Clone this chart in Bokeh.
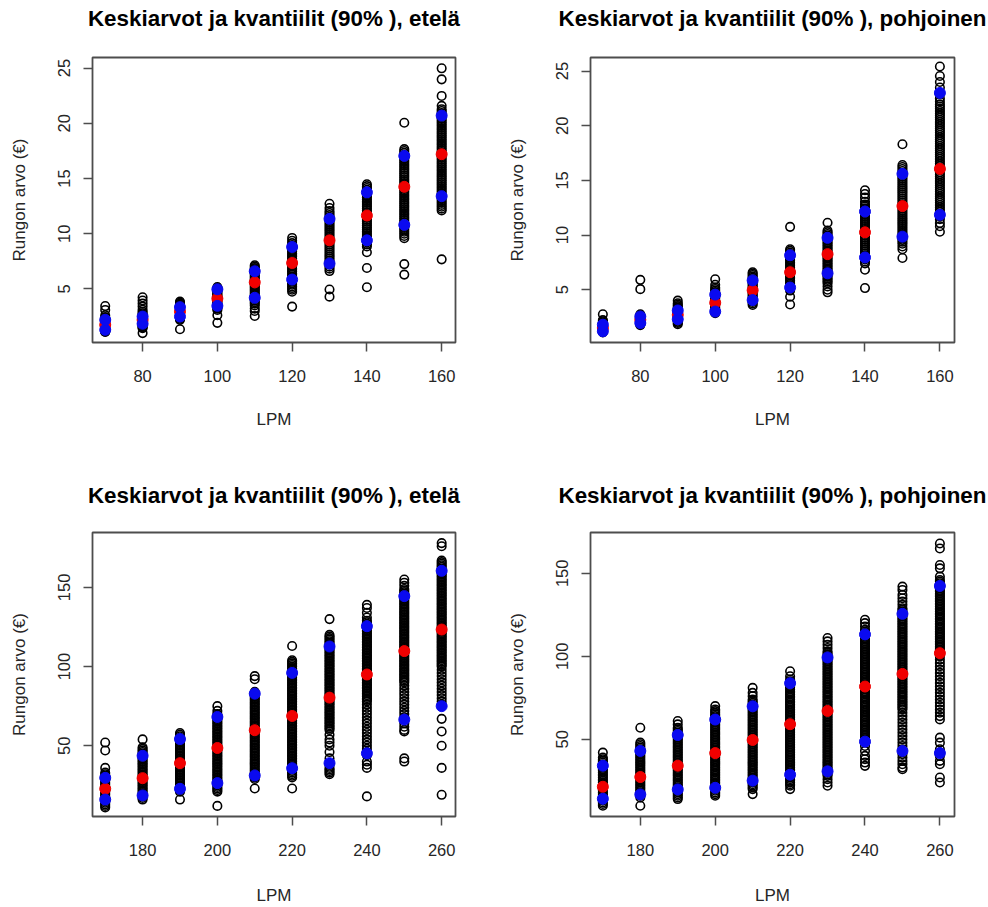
from bokeh.plotting import figure
from bokeh.layouts import gridplot
from bokeh.models import FixedTicker, Range1d, LinearAxis
from bokeh.embed import file_html
from bokeh.resources import INLINE

# Tree length classes (LPM) on the x axis
lpm_low = [70, 80, 90, 100, 110, 120, 130, 140, 150, 160]
lpm_high = [170, 180, 190, 200, 210, 220, 230, 240, 250, 260]

# ---- etelä, LPM 70-160: individual stem values per class ----
etela_low_points = [
    [3.45, 3.1, 2.62, 2.45, 2.32, 2.21, 2.12, 2.03, 1.95, 1.88, 1.81, 1.74, 1.67, 1.6, 1.54, 1.48, 1.42, 1.36, 1.3, 1.25, 1.19, 1.14, 1.1],
    [4.25, 3.95, 3.68, 3.4, 3.12, 2.93, 2.8, 2.68, 2.58, 2.48, 2.39, 2.31, 2.23, 2.15, 2.07, 2.0, 1.92, 1.84, 1.76, 1.68, 1.6, 1.52, 1.44, 1.0],
    [3.86, 3.76, 3.66, 3.57, 3.47, 3.38, 3.29, 3.19, 3.1, 3.01, 2.92, 2.83, 2.74, 2.65, 2.56, 2.47, 2.38, 2.3, 2.2, 1.35],
    [5.18, 5.08, 4.98, 4.88, 4.79, 4.69, 4.59, 4.49, 4.39, 4.3, 4.2, 4.1, 4.01, 3.91, 3.81, 3.71, 3.62, 3.52, 3.42, 3.32, 3.22, 3.1, 2.62, 1.93],
    [7.15, 7.02, 6.89, 6.77, 6.64, 6.51, 6.38, 6.26, 6.13, 6.0, 5.87, 5.74, 5.62, 5.49, 5.36, 5.23, 5.1, 4.98, 4.85, 4.72, 4.59, 4.46, 4.33, 4.2, 4.07, 3.94, 3.8, 3.67, 3.5, 3.22, 3.0, 2.55],
    [9.62, 9.36, 9.15, 8.98, 8.83, 8.68, 8.53, 8.38, 8.23, 8.08, 7.93, 7.78, 7.63, 7.48, 7.33, 7.18, 7.03, 6.88, 6.73, 6.58, 6.43, 6.28, 6.13, 5.98, 5.83, 5.68, 5.53, 5.38, 5.23, 5.08, 4.93, 4.75, 3.4],
    [12.72, 12.33, 12.06, 11.88, 11.7, 11.52, 11.34, 11.16, 10.98, 10.8, 10.62, 10.44, 10.26, 10.08, 9.9, 9.72, 9.54, 9.36, 9.18, 9.0, 8.82, 8.64, 8.46, 8.28, 8.1, 7.92, 7.74, 7.56, 7.38, 7.2, 7.02, 6.84, 6.62, 4.95, 4.3],
    [14.48, 14.31, 14.14, 13.97, 13.8, 13.63, 13.46, 13.29, 13.12, 12.95, 12.78, 12.61, 12.44, 12.27, 12.1, 11.93, 11.76, 11.59, 11.42, 11.25, 11.08, 10.91, 10.74, 10.57, 10.4, 10.23, 10.06, 9.89, 9.72, 9.55, 9.38, 9.21, 9.04, 8.85, 8.32, 6.9, 5.15],
    [20.05, 17.66, 17.49, 17.32, 17.15, 16.98, 16.81, 16.64, 16.47, 16.3, 16.13, 15.96, 15.79, 15.62, 15.45, 15.28, 15.11, 14.94, 14.77, 14.6, 14.43, 14.26, 14.09, 13.92, 13.75, 13.58, 13.41, 13.24, 13.07, 12.9, 12.73, 12.56, 12.39, 12.22, 12.05, 11.88, 11.71, 11.54, 11.37, 11.2, 11.03, 10.86, 10.69, 10.52, 10.35, 10.18, 10.0, 9.8, 9.6, 7.25, 6.3],
    [24.98, 23.98, 22.48, 21.58, 21.28, 21.11, 20.94, 20.77, 20.6, 20.43, 20.26, 20.09, 19.92, 19.75, 19.58, 19.41, 19.24, 19.07, 18.9, 18.73, 18.56, 18.39, 18.22, 18.05, 17.88, 17.71, 17.54, 17.37, 17.2, 17.03, 16.86, 16.69, 16.52, 16.35, 16.18, 16.01, 15.84, 15.67, 15.5, 15.33, 15.16, 14.99, 14.82, 14.65, 14.48, 14.31, 14.14, 13.97, 13.8, 13.63, 13.46, 13.29, 13.12, 12.95, 12.78, 12.61, 12.44, 12.27, 12.1, 7.68],
]
etela_low_mean = [1.75, 2.2, 2.95, 4.13, 5.6, 7.35, 9.4, 11.65, 14.25, 17.2]
etela_low_q05 = [1.3, 1.85, 2.5, 3.47, 4.2, 5.85, 7.3, 9.4, 10.8, 13.4]
etela_low_q95 = [2.2, 2.5, 3.35, 4.97, 6.6, 8.8, 11.35, 13.75, 17.05, 20.7]

# ---- pohjoinen, LPM 70-160 ----
pohjoinen_low_points = [
    [2.75, 2.22, 2.12, 2.02, 1.93, 1.84, 1.75, 1.66, 1.58, 1.5, 1.42, 1.34, 1.26, 1.18, 1.1],
    [5.9, 5.05, 2.75, 2.66, 2.57, 2.48, 2.39, 2.3, 2.21, 2.12, 2.03, 1.94, 1.85, 1.76],
    [4.0, 3.76, 3.63, 3.5, 3.38, 3.26, 3.14, 3.02, 2.9, 2.78, 2.66, 2.54, 2.42, 2.3, 2.18, 2.06, 1.95, 1.85],
    [5.95, 5.45, 5.2, 5.06, 4.92, 4.78, 4.64, 4.5, 4.36, 4.22, 4.08, 3.94, 3.8, 3.66, 3.52, 3.38, 3.24, 3.1, 2.97, 2.85],
    [6.6, 6.47, 6.34, 6.21, 6.08, 5.95, 5.82, 5.69, 5.56, 5.43, 5.3, 5.17, 5.04, 4.91, 4.78, 4.65, 4.52, 4.39, 4.26, 4.13, 4.0, 3.87, 3.74, 3.6],
    [10.75, 8.7, 8.55, 8.4, 8.25, 8.1, 7.95, 7.8, 7.65, 7.5, 7.35, 7.2, 7.05, 6.9, 6.75, 6.6, 6.45, 6.3, 6.15, 6.0, 5.85, 5.7, 5.55, 5.4, 5.25, 5.1, 4.92, 4.35, 3.65],
    [11.12, 10.4, 10.25, 10.1, 9.95, 9.8, 9.65, 9.5, 9.35, 9.2, 9.05, 8.9, 8.75, 8.6, 8.45, 8.3, 8.15, 8.0, 7.85, 7.7, 7.55, 7.4, 7.25, 7.1, 6.95, 6.8, 6.65, 6.5, 6.35, 6.2, 6.05, 5.9, 5.75, 5.6, 5.3, 5.0, 4.76],
    [14.1, 13.75, 13.42, 13.05, 12.8, 12.62, 12.44, 12.26, 12.08, 11.9, 11.72, 11.54, 11.36, 11.18, 11.0, 10.82, 10.64, 10.46, 10.28, 10.1, 9.92, 9.74, 9.56, 9.38, 9.2, 9.02, 8.84, 8.66, 8.48, 8.3, 8.12, 7.94, 7.76, 7.58, 7.4, 6.82, 5.15],
    [18.3, 16.4, 16.22, 16.04, 15.86, 15.68, 15.5, 15.32, 15.14, 14.96, 14.78, 14.6, 14.42, 14.24, 14.06, 13.88, 13.7, 13.52, 13.34, 13.16, 12.98, 12.8, 12.62, 12.44, 12.26, 12.08, 11.9, 11.72, 11.54, 11.36, 11.18, 11.0, 10.82, 10.64, 10.46, 10.28, 10.1, 9.92, 9.74, 9.56, 9.38, 9.2, 8.95, 8.7, 7.9],
    [25.42, 24.55, 24.0, 23.5, 22.9, 22.5, 22.2, 21.95, 21.75, 21.55, 21.35, 21.15, 20.95, 20.75, 20.55, 20.35, 20.15, 19.95, 19.75, 19.55, 19.35, 19.15, 18.95, 18.75, 18.55, 18.35, 18.15, 17.95, 17.75, 17.55, 17.35, 17.15, 16.95, 16.75, 16.55, 16.35, 16.15, 15.95, 15.75, 15.55, 15.35, 15.15, 14.95, 14.75, 14.55, 14.35, 14.15, 13.95, 13.75, 13.55, 13.35, 13.15, 12.95, 12.75, 12.55, 12.35, 12.15, 11.95, 11.7, 11.45, 11.1, 10.8, 10.3],
]
pohjoinen_low_mean = [1.5, 2.25, 2.7, 3.8, 4.95, 6.6, 8.25, 10.25, 12.65, 16.05]
pohjoinen_low_q05 = [1.2, 1.95, 2.3, 3.0, 4.05, 5.2, 6.5, 7.95, 9.85, 11.85]
pohjoinen_low_q95 = [1.8, 2.55, 3.1, 4.55, 5.85, 8.15, 9.75, 12.15, 15.6, 23.0]

# ---- etelä, LPM 170-260 ----
etela_high_points = [
    [52, 47, 36, 33, 32, 31, 30, 29, 28, 27, 26, 25, 24, 23, 22, 21, 20, 19, 18, 17, 16, 15, 14, 13, 12, 11],
    [54, 49, 48, 47, 46, 45, 44, 43, 42, 41, 40, 39, 38, 37, 36, 35, 34, 33, 32, 31, 30, 29, 28, 27, 26, 25, 24, 23, 22, 21, 20, 19, 18, 17, 16],
    [58, 57, 56, 55, 54, 53, 52, 51, 50, 49, 48, 47, 46, 45, 44, 43, 42, 41, 40, 39, 38, 37, 36, 35, 34, 33, 32, 31, 30, 29, 28, 27, 26, 25, 24, 23, 22, 21, 16],
    [75, 72, 70, 69, 68, 67, 66, 65, 64, 63, 62, 61, 60, 59, 58, 57, 56, 55, 54, 53, 52, 51, 50, 49, 48, 47, 46, 45, 44, 43, 42, 41, 40, 39, 38, 37, 36, 35, 34, 33, 32, 31, 30, 29, 28, 27, 26, 25, 24, 23, 22, 21, 12],
    [94, 92, 84, 83, 82, 81, 80, 79, 78, 77, 76, 75, 74, 73, 72, 71, 70, 69, 68, 67, 66, 65, 64, 63, 62, 61, 60, 59, 58, 57, 56, 55, 54, 53, 52, 51, 50, 49, 48, 47, 46, 45, 44, 43, 42, 41, 40, 39, 38, 37, 36, 35, 34, 33, 32, 31, 30, 29, 23],
    [113, 104, 103, 102, 101, 100, 99, 98, 97, 96, 95, 94, 93, 92, 91, 90, 89, 88, 87, 86, 85, 84, 83, 82, 81, 80, 79, 78, 77, 76, 75, 74, 73, 72, 71, 70, 69, 68, 67, 66, 65, 64, 63, 62, 61, 60, 59, 58, 57, 56, 55, 54, 53, 52, 51, 50, 49, 48, 47, 46, 45, 44, 43, 42, 41, 40, 39, 38, 37, 36, 35, 34, 33, 32, 31, 30, 23],
    [130, 120, 119, 118, 117, 116, 115, 114, 113, 112, 111, 110, 109, 108, 107, 106, 105, 104, 103, 102, 101, 100, 99, 98, 97, 96, 95, 94, 93, 92, 91, 90, 89, 88, 87, 86, 85, 84, 83, 82, 81, 80, 79, 78, 77, 76, 75, 74, 73, 72, 71, 70, 69, 68, 67, 66, 65, 64, 63, 62, 61, 60, 57, 54, 52, 50, 46, 42, 38, 36, 35, 34, 33, 32],
    [139, 137, 134, 131, 129, 128, 127, 126, 125, 124, 123, 122, 121, 120, 119, 118, 117, 116, 115, 114, 113, 112, 111, 110, 109, 108, 107, 106, 105, 104, 103, 102, 101, 100, 99, 98, 97, 96, 95, 94, 93, 92, 91, 90, 89, 88, 87, 86, 85, 84, 83, 82, 81, 80, 79, 78, 76, 74, 72, 70, 68, 66, 64, 62, 60, 58, 56, 54, 52, 50, 48, 46, 44, 40, 38, 36, 18],
    [155, 153, 151, 149, 148, 147, 146, 145, 144, 143, 142, 141, 140, 139, 138, 137, 136, 135, 134, 133, 132, 131, 130, 129, 128, 127, 126, 125, 124, 123, 122, 121, 120, 119, 118, 117, 116, 115, 114, 113, 112, 111, 110, 109, 108, 107, 106, 105, 104, 103, 102, 101, 100, 99, 98, 97, 96, 95, 94, 93, 92, 91, 90, 88, 86, 84, 82, 80, 78, 76, 74, 72, 70, 68, 64, 62, 60, 59, 42, 40],
    [178, 176, 167, 166, 165, 164, 163, 162, 161, 160, 159, 158, 157, 156, 155, 154, 153, 152, 151, 150, 149, 148, 147, 146, 145, 144, 143, 142, 141, 140, 139, 138, 137, 136, 135, 134, 133, 132, 131, 130, 129, 128, 127, 126, 125, 124, 123, 122, 121, 120, 119, 118, 117, 116, 115, 114, 113, 112, 111, 110, 109, 108, 107, 106, 105, 104, 103, 102, 101, 100, 98, 96, 94, 92, 90, 88, 86, 84, 82, 80, 78, 76, 67, 59, 50, 36, 19],
]
etela_high_mean = [22.8, 29.5, 39.0, 48.6, 59.8, 68.8, 80.4, 95.0, 109.8, 123.4]
etela_high_q05 = [16.0, 18.6, 22.8, 26.4, 31.2, 35.8, 39.0, 45.2, 66.5, 75.0]
etela_high_q95 = [29.7, 43.7, 54.2, 68.2, 82.9, 96.0, 112.7, 125.5, 144.5, 160.5]

# ---- pohjoinen, LPM 170-260 ----
pohjoinen_high_points = [
    [42, 39, 38, 37, 36, 35, 34, 33, 32, 31, 30, 29, 28, 27, 26, 25, 24, 23, 22, 21, 20, 19, 18, 17, 16, 15, 14, 13, 12, 11, 10],
    [57, 48, 47, 46, 45, 44, 43, 42, 41, 40, 39, 38, 37, 36, 35, 34, 33, 32, 31, 30, 29, 28, 27, 26, 25, 24, 23, 22, 21, 20, 19, 18, 17, 16, 15, 10],
    [61, 59, 57, 56, 55, 54, 53, 52, 51, 50, 49, 48, 47, 46, 45, 44, 43, 42, 41, 40, 39, 38, 37, 36, 35, 34, 33, 32, 31, 30, 29, 28, 27, 26, 25, 24, 23, 22, 21, 20, 19, 18, 17, 16, 15, 14],
    [70, 68, 67, 66, 65, 64, 63, 62, 61, 60, 59, 58, 57, 56, 55, 54, 53, 52, 51, 50, 49, 48, 47, 46, 45, 44, 43, 42, 41, 40, 39, 38, 37, 36, 35, 34, 33, 32, 31, 30, 29, 28, 27, 26, 25, 24, 23, 22, 21, 20, 19, 18, 17, 16],
    [81, 78, 76, 74, 73, 72, 71, 70, 69, 68, 67, 66, 65, 64, 63, 62, 61, 60, 59, 58, 57, 56, 55, 54, 53, 52, 51, 50, 49, 48, 47, 46, 45, 44, 43, 42, 41, 40, 39, 38, 37, 36, 35, 34, 33, 32, 31, 30, 29, 28, 27, 26, 25, 24, 23, 22, 21, 20, 17],
    [91, 88, 86, 85, 84, 83, 82, 81, 80, 79, 78, 77, 76, 75, 74, 73, 72, 71, 70, 69, 68, 67, 66, 65, 64, 63, 62, 61, 60, 59, 58, 57, 56, 55, 54, 53, 52, 51, 50, 49, 48, 47, 46, 45, 44, 43, 42, 41, 40, 39, 38, 37, 36, 35, 34, 33, 32, 31, 30, 29, 28, 27, 26, 25, 24, 23, 22, 20],
    [111, 109, 107, 105, 103, 102, 101, 100, 99, 98, 97, 96, 95, 94, 93, 92, 91, 90, 89, 88, 87, 86, 85, 84, 83, 82, 81, 80, 79, 78, 77, 76, 75, 74, 73, 72, 71, 70, 69, 68, 67, 66, 65, 64, 63, 62, 61, 60, 59, 58, 57, 56, 55, 54, 53, 52, 51, 50, 49, 48, 47, 46, 45, 44, 43, 42, 41, 40, 39, 38, 37, 36, 35, 34, 33, 32, 31, 30, 29, 28, 26, 24, 22],
    [122, 120, 118, 116, 115, 114, 113, 112, 111, 110, 109, 108, 107, 106, 105, 104, 103, 102, 101, 100, 99, 98, 97, 96, 95, 94, 93, 92, 91, 90, 89, 88, 87, 86, 85, 84, 83, 82, 81, 80, 79, 78, 77, 76, 75, 74, 73, 72, 71, 70, 69, 68, 67, 66, 65, 64, 63, 62, 61, 60, 59, 58, 57, 56, 55, 54, 53, 52, 51, 50, 49, 46, 43, 40, 38, 36, 34],
    [142, 140, 137, 135, 133, 131, 129, 128, 127, 126, 125, 124, 123, 122, 121, 120, 119, 118, 117, 116, 115, 114, 113, 112, 111, 110, 109, 108, 107, 106, 105, 104, 103, 102, 101, 100, 99, 98, 97, 96, 95, 94, 93, 92, 91, 90, 89, 88, 87, 86, 85, 84, 83, 82, 81, 80, 79, 78, 77, 76, 75, 74, 73, 72, 71, 70, 69, 68, 66, 64, 62, 60, 58, 56, 54, 52, 50, 48, 46, 44, 41, 39, 37, 35, 33, 32],
    [168, 165, 155, 153, 148, 146, 145, 144, 143, 142, 141, 140, 139, 138, 137, 136, 135, 134, 133, 132, 131, 130, 129, 128, 127, 126, 125, 124, 123, 122, 121, 120, 119, 118, 117, 116, 115, 114, 113, 112, 111, 110, 109, 108, 107, 106, 105, 104, 103, 102, 101, 100, 98, 96, 94, 92, 90, 88, 86, 84, 82, 80, 78, 76, 74, 72, 70, 68, 66, 64, 62, 51, 48, 44, 42, 40, 37, 35, 27, 24],
]
pohjoinen_high_mean = [21.4, 27.3, 34.1, 41.7, 49.6, 59.1, 67.1, 81.8, 89.4, 101.9]
pohjoinen_high_q05 = [14.2, 16.8, 19.8, 20.8, 25.1, 28.7, 30.7, 48.6, 43.0, 41.7]
pohjoinen_high_q95 = [34.1, 43.0, 52.6, 61.9, 69.9, 83.8, 99.3, 113.2, 125.6, 142.4]

title_etela = "Keskiarvot ja kvantiilit (90% ), etelä"
title_pohjoinen = "Keskiarvot ja kvantiilit (90% ), pohjoinen"
x_label = "LPM"
y_label = "Rungon arvo (€)"

ticks_x_low = [80, 100, 120, 140, 160]
ticks_x_high = [180, 200, 220, 240, 260]
ticks_y_low = [5, 10, 15, 20, 25]
ticks_y_high = [50, 100, 150]

FONT = "Liberation Sans"
FRAME_GREY = "#4d4d4d"
TEXT_GREY = "#262626"


def make_panel(title, lpm, points, means, q05, q95, xticks, yticks,
               xr, yr, width, height, border, title_gap, xlabel_gap):
    left, right, top, bottom = border
    p = figure(width=width, height=height, output_backend="svg",
               toolbar_location=None,
               x_range=Range1d(*xr), y_range=Range1d(*yr),
               min_border_left=left, min_border_right=right,
               min_border_top=top, min_border_bottom=bottom)
    p.background_fill_color = "white"
    p.border_fill_color = "white"
    p.xgrid.grid_line_color = None
    p.ygrid.grid_line_color = None
    p.outline_line_color = FRAME_GREY
    p.outline_line_width = 1.8

    xs, ys = [], []
    for x, vals in zip(lpm, points):
        for v in vals:
            xs.append(x)
            ys.append(v)

    # observations as open rings, then means (red) and 5 % / 95 % quantiles (blue)
    p.scatter(xs, ys, marker="circle", size=8.5, fill_color=None,
              line_color="black", line_width=1.6)
    p.scatter(lpm, means, marker="circle", size=11,
              fill_color="#f00000", line_color="#f00000")
    p.scatter(lpm + lpm, q05 + q95, marker="circle", size=11,
              fill_color="#0a0af0", line_color="#0a0af0")

    p.xaxis.ticker = FixedTicker(ticks=xticks)
    p.yaxis.ticker = FixedTicker(ticks=yticks)
    for ax in (p.xaxis[0], p.yaxis[0]):
        ax.axis_line_color = None
        ax.major_tick_line_color = FRAME_GREY
        ax.major_tick_line_width = 1.5
        ax.major_tick_out = 9
        ax.major_tick_in = 0
        ax.minor_tick_line_color = None
        ax.major_label_text_font = FONT
        ax.major_label_text_font_size = "16.5px"
        ax.major_label_text_color = TEXT_GREY
        ax.axis_label_text_font = FONT
        ax.axis_label_text_font_size = "17px"
        ax.axis_label_text_font_style = "normal"
        ax.axis_label_text_color = TEXT_GREY

    p.xaxis.axis_label = x_label
    p.yaxis.axis_label = y_label
    p.xaxis.major_label_standoff = 18
    p.xaxis.axis_label_standoff = xlabel_gap
    p.yaxis.major_label_orientation = "vertical"
    p.yaxis.major_label_standoff = 13
    p.yaxis.axis_label_standoff = 27

    # panel heading carried by a bare axis above the frame
    heading = LinearAxis(ticker=FixedTicker(ticks=[]), axis_label=title,
                         axis_line_color=None, major_tick_line_color=None,
                         minor_tick_line_color=None, major_tick_out=0,
                         major_tick_in=0, minor_tick_out=0, minor_tick_in=0,
                         major_label_standoff=0,
                         major_label_text_font_size="0px",
                         axis_label_standoff=title_gap,
                         axis_label_text_font=FONT,
                         axis_label_text_font_size="22.4px",
                         axis_label_text_font_style="bold",
                         axis_label_text_color="black")
    p.add_layout(heading, "above")
    return p


p1 = make_panel(title_etela, lpm_low, etela_low_points, etela_low_mean,
                etela_low_q05, etela_low_q95, ticks_x_low, ticks_y_low,
                (66.6, 163.7), (0.15, 25.96), 494, 453, (92, 39, 56, 111), 27, 25)
p2 = make_panel(title_pohjoinen, lpm_low, pohjoinen_low_points, pohjoinen_low_mean,
                pohjoinen_low_q05, pohjoinen_low_q95, ticks_x_low, ticks_y_low,
                (66.7, 163.9), (0.17, 26.24), 494, 453, (96, 34, 57, 110), 27, 25)
p3 = make_panel(title_etela, lpm_high, etela_high_points, etela_high_mean,
                etela_high_q05, etela_high_q95, ticks_x_high, ticks_y_high,
                (166.6, 263.7), (5.3, 184.7), 494, 454, (92, 39, 79, 89), 25, 27)
p4 = make_panel(title_pohjoinen, lpm_high, pohjoinen_high_points, pohjoinen_high_mean,
                pohjoinen_high_q05, pohjoinen_high_q95, ticks_x_high, ticks_y_high,
                (166.7, 263.9), (3.5, 174.6), 494, 454, (96, 34, 79, 88), 25, 27)

grid = gridplot([[p1, p2], [p3, p4]], toolbar_location=None)

with open("out.html", "w") as f:
    f.write(file_html(grid, INLINE))
